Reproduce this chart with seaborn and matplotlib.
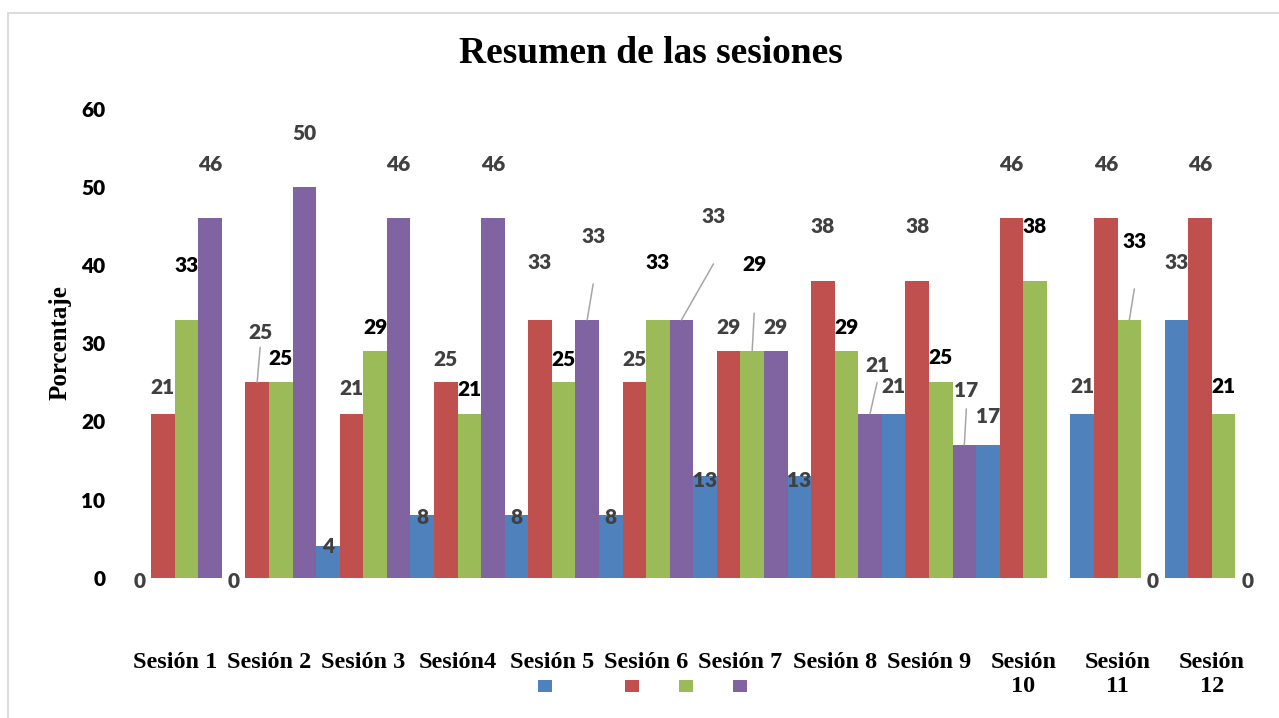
import numpy as np
import pandas as pd
import matplotlib
matplotlib.use("Agg")
import matplotlib.pyplot as plt
from matplotlib.patches import Rectangle, Patch
import seaborn as sns

# ---------------- data ----------------
sessions = ["Sesión 1", "Sesión 2", "Sesión 3", "Sesión4", "Sesión 5", "Sesión 6",
            "Sesión 7", "Sesión 8", "Sesión 9", "Sesión 10", "Sesión 11", "Sesión 12"]
tick_labels = ["Sesión 1", "Sesión 2", "Sesión 3", "Sesión4", "Sesión 5", "Sesión 6",
               "Sesión 7", "Sesión 8", "Sesión 9", "Sesión\n10", "Sesión\n11", "Sesión\n12"]
series_names = ["Serie 1", "Serie 2", "Serie 3", "Serie 4"]
serie1 = [0, 0, 4, 8, 8, 8, 13, 13, 21, 17, 21, 33]
serie2 = [21, 25, 21, 25, 33, 25, 29, 38, 38, 46, 46, 46]
serie3 = [33, 25, 29, 21, 25, 33, 29, 29, 25, 38, 33, 21]
serie4 = [46, 50, 46, 46, 33, 33, 29, 21, 17, np.nan, 0, 0]
yticks = [0, 10, 20, 30, 40, 50, 60]

title = "Resumen de las sesiones"
ylabel = "Porcentaje"

# ---------------- styling ----------------
colors = ["#4F81BD", "#C0504D", "#9BBB59", "#8064A2"]
label_colors = ["#404040", "#404040", "#000000", "#404040"]
# label position above bar top, in pixels (label centre)
label_dy_px = [
    [-4, -4, 0, -2, -2, -2, -4, -4, 27, 28, 27, 57],
    [26, 50, 25, 23, 57, 23, 24, 54, 54, 54, 54, 54],
    [54, 24, 24, 24, 23, 57, 87, 24, 25, 54, 78, 27],
    [54, 54, 54, 54, 83, 103, 24, 48, 54, 0, -4, -4],
]
# labels moved sideways with a leader line: (series, session) -> (dx px, line top dy px)
leaders = {
    (1, 1): (3, 35),
    (3, 4): (6, 36),
    (3, 5): (32, 56),
    (2, 6): (2, 38),
    (3, 7): (7, 31),
    (3, 8): (2, 36),
    (2, 10): (5, 31),
}
PX = 0.72  # points per pixel at dpi 100

sns.set_style("white")
plt.rcParams["font.family"] = ["Lato", "DejaVu Sans"]
SERIF = ["Liberation Serif", "DejaVu Serif"]
NUM_WEIGHT = "heavy"

W, H = 1279, 718
fig = plt.figure(figsize=(W / 100, H / 100), dpi=100)
ax_left, ax_right, ax_top, ax_bottom = 127.5, 1259.0, 101.2, 603.4
ax = fig.add_axes([ax_left / W, 1 - ax_bottom / H, (ax_right - ax_left) / W, (ax_bottom - ax_top) / H])

values = [serie1, serie2, serie3, serie4]
rows = []
for name, vals in zip(series_names, values):
    for s, v in zip(sessions, vals):
        if not np.isnan(v):
            rows.append({"Sesión": s, "Serie": name, "Porcentaje": v})
df = pd.DataFrame(rows)

sns.barplot(data=df, x="Sesión", y="Porcentaje", hue="Serie", order=sessions,
            hue_order=series_names, palette=colors, width=1.0, gap=0, saturation=1,
            errorbar=None, legend=False, linewidth=0, ax=ax)

ax.set_xlim(-0.5, len(sessions) - 0.5)
ax.set_ylim(-3.3, 61)
ax.set_yticks(yticks)
ax.set_yticklabels([str(t) for t in yticks], fontsize=15, fontweight=NUM_WEIGHT, color="black")
ax.set_xticks(range(len(sessions)))
ax.set_xticklabels(tick_labels, fontsize=17.5, fontweight="bold", family=SERIF, color="black")
ax.tick_params(axis="x", length=0, pad=35)
ax.tick_params(axis="y", length=0, pad=16)
for sp in ax.spines.values():
    sp.set_visible(False)
ax.grid(False)
ax.set_xlabel("")
ax.set_ylabel(ylabel, fontsize=18, fontweight="bold", family=SERIF, color="black")
ax.yaxis.set_label_coords((72 - ax_left) / (ax_right - ax_left), (ax_bottom - 343) / (ax_bottom - ax_top))

# data labels
nser = len(series_names)
for j, vals in enumerate(values):
    for i, v in enumerate(vals):
        if np.isnan(v):
            continue
        x = i + (j - (nser - 1) / 2) * (1.0 / nser)
        dx = 0
        if (j, i) in leaders:
            dx, ltop = leaders[(j, i)]
            ax.annotate("", xy=(x, v), xytext=(dx * PX, ltop * PX), textcoords="offset points",
                        arrowprops=dict(arrowstyle="-", color="#A6A6A6", lw=1.1,
                                        shrinkA=0, shrinkB=0))
        ax.annotate(f"{int(v)}", xy=(x, v), xytext=(dx * PX, label_dy_px[j][i] * PX),
                    textcoords="offset points", ha="center", va="center",
                    fontsize=15, fontweight=NUM_WEIGHT, color=label_colors[j])

# title
fig.text(650.5 / W, 1 - 63 / H, title, ha="center", va="baseline", fontsize=27,
         fontweight="bold", family=SERIF, color="black")

# legend (entries without text)
handles = [Patch(facecolor=c, edgecolor="none") for c in colors]
common = dict(frameon=False, fontsize=10, handlelength=1.0, handleheight=1.0,
              handletextpad=0, borderpad=0, borderaxespad=0, loc="center")
leg1 = fig.legend(handles=handles[:1], labels=[""], bbox_to_anchor=(545 / W, 1 - 686 / H), **common)
leg2 = fig.legend(handles=handles[1:], labels=["", "", ""], ncol=3, columnspacing=2.88,
                  bbox_to_anchor=(686 / W, 1 - 686 / H), **common)

# chart area border
fig.add_artist(Rectangle((8 / W, -0.2), 1.2, 1.2 - 12.5 / H, transform=fig.transFigure,
                         fill=False, edgecolor="#D9D9D9", lw=1.3))

fig.savefig("out.png", dpi=100, facecolor="white")
